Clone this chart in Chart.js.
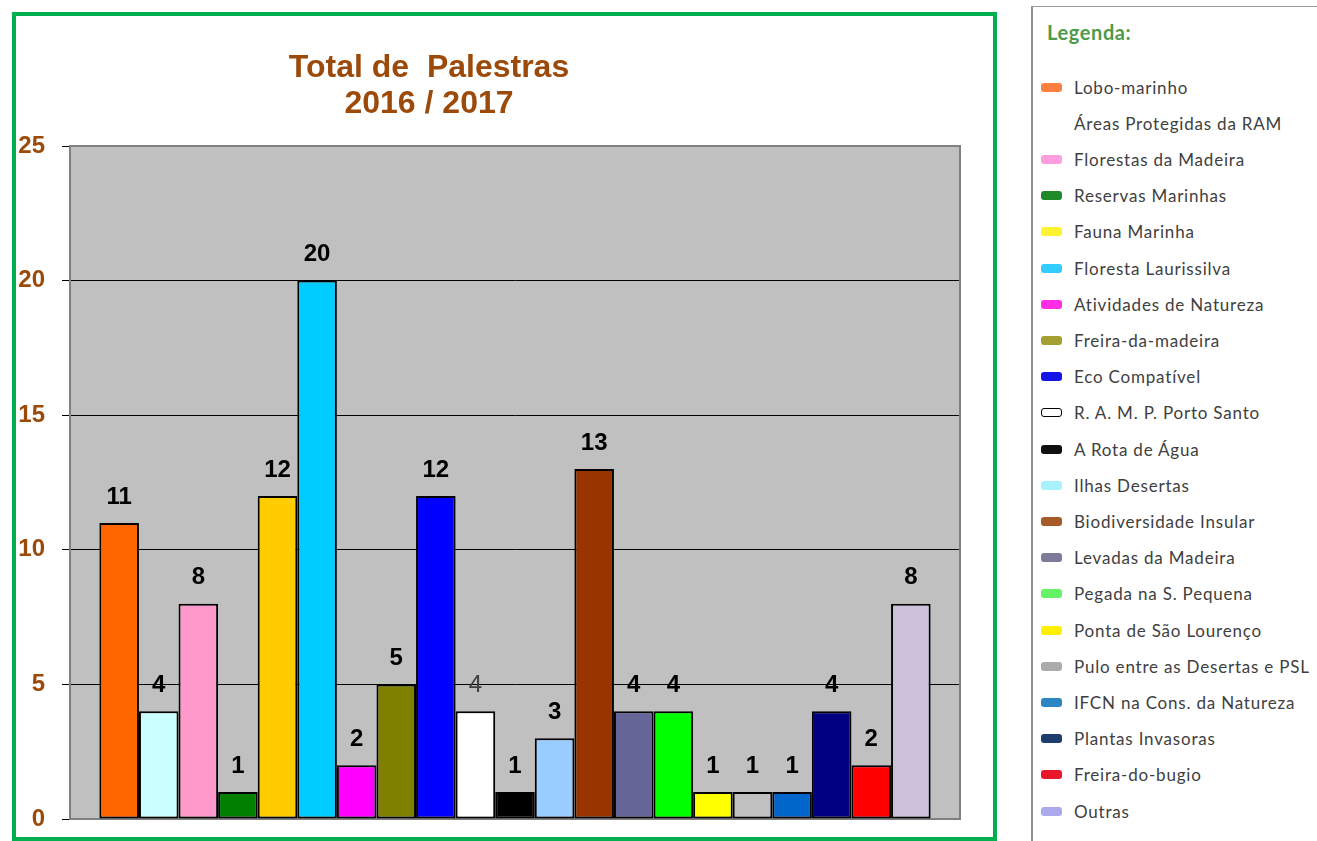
<!DOCTYPE html>
<html>
<head>
<meta charset="utf-8">
<script src="https://cdn.jsdelivr.net/npm/chart.js@4/dist/chart.umd.min.js"></script>
<style>
  body { margin: 0; background: #fff; width: 1317px; height: 841px; overflow: hidden; position: relative; }
  #caixa { position: absolute; left: 12px; top: 12px; width: 977px; height: 821px; border: 4px solid #00B050; }
  #titulo { position: absolute; left: 0; top: 32px; width: 826px; text-align: center; white-space: pre;
            font: bold 32px Arial, "Liberation Sans", sans-serif; line-height: 36px; color: #9C4A0A; }
  #legenda { position: absolute; left: 1031px; top: 6px; width: 300px; height: 900px; border: 1px solid #9a9a9a;
             border-left: 2px solid #8a968a; font-family: Lato, "Open Sans", sans-serif; }
  #legenda h3 { margin: 0; position: absolute; left: 14px; top: 13px; font: bold 20px Lato, sans-serif;
                letter-spacing: 0.6px; color: #4F9A48; }
  .item { position: absolute; left: 8px; height: 20px; display: flex; align-items: center; font-size: 17px;
          letter-spacing: 0.8px; color: #404040; white-space: nowrap; }
  .amostra { width: 21px; height: 9px; border-radius: 3px; margin-right: 12px; box-sizing: border-box; }
</style>
</head>
<body>
<div id="caixa">
  <canvas id="chartPalestras" width="977" height="821"></canvas>
  <div id="titulo">Total de  Palestras
2016 / 2017</div>
</div>
<div id="legenda"><h3>Legenda:</h3></div>

<script>
// dados do gráfico
const temas = ["Lobo-marinho", "Áreas Protegidas da RAM", "Florestas da Madeira", "Reservas Marinhas",
  "Fauna Marinha", "Floresta Laurissilva", "Atividades de Natureza", "Freira-da-madeira", "Eco Compatível",
  "R. A. M. P. Porto Santo", "A Rota de Água", "Ilhas Desertas", "Biodiversidade Insular", "Levadas da Madeira",
  "Pegada na S. Pequena", "Ponta de São Lourenço", "Pulo entre as Desertas e PSL", "IFCN na Cons. da Natureza",
  "Plantas Invasoras", "Freira-do-bugio", "Outras"]
const palestras = [11, 4, 8, 1, 12, 20, 2, 5, 12, 4, 1, 3, 13, 4, 4, 1, 1, 1, 4, 2, 8]
const coresBarras = ["#FF6600", "#CCFFFF", "#FF99CC", "#008000", "#FFCC00", "#00CCFF", "#FF00FF", "#808000",
  "#0000FF", "#FFFFFF", "#000000", "#99CCFF", "#993300", "#666699", "#00FF00", "#FFFF00", "#C0C0C0",
  "#0066CC", "#000080", "#FF0000", "#CCC0DA"]
const coresLegenda = ["#FF7F3F", null, "#FF9EDC", "#1E8A2A", "#FFF230", "#33CCFF", "#FF2EE6", "#A39F30",
  "#1414E6", "#FFFFFF", "#101010", "#A8F2FF", "#A85A2A", "#7E7A9A", "#66F266", "#FFF000", "#ABABAB",
  "#2C86C4", "#1F3C6E", "#E8162A", "#ABA8EE"]
const ticksY = [0, 5, 10, 15, 20, 25]

// legenda
const legenda = document.getElementById('legenda')
temas.forEach((tema, i) => {
  const item = document.createElement('div')
  item.className = 'item'
  item.style.top = (70 + i * 36.2) + 'px'
  const amostra = document.createElement('span')
  amostra.className = 'amostra'
  if (coresLegenda[i]) {
    amostra.style.background = coresLegenda[i]
    if (coresLegenda[i] == "#FFFFFF") amostra.style.border = '1.5px solid #000'
  }
  item.appendChild(amostra)
  item.appendChild(document.createTextNode(tema))
  legenda.appendChild(item)
})

// fundo cinza e moldura da área do gráfico
const fundoArea = {
  id: 'fundoArea',
  beforeDraw(chart) {
    const { ctx, chartArea: a } = chart
    ctx.save()
    ctx.fillStyle = '#C0C0C0'
    ctx.fillRect(a.left, a.top, a.right - a.left, a.bottom - a.top)
    ctx.restore()
  },
  beforeDatasetsDraw(chart) {
    const { ctx, chartArea: a } = chart
    ctx.save()
    ctx.strokeStyle = '#808080'
    ctx.lineWidth = 2
    ctx.strokeRect(a.left, a.top, a.right - a.left, a.bottom - a.top)
    ctx.restore()
  }
}

// valores em cima das barras
const rotulos = {
  id: 'rotulos',
  afterDatasetsDraw(chart) {
    const ctx = chart.ctx
    ctx.save()
    ctx.textAlign = 'center'
    ctx.textBaseline = 'middle'
    chart.data.datasets.forEach((ds, i) => {
      const barra = chart.getDatasetMeta(i).data[0]
      if (i == 9) {
        ctx.font = '24px Arial'
        ctx.fillStyle = '#404040'
      } else {
        ctx.font = 'bold 24px Arial'
        ctx.fillStyle = '#000'
      }
      ctx.fillText(ds.data[0], barra.x, barra.y - 26)
    })
    ctx.restore()
  }
}

const datasets = temas.map((tema, i) => ({
  label: tema,
  data: [palestras[i]],
  backgroundColor: coresBarras[i],
  borderColor: '#000',
  borderWidth: 2,
  borderSkipped: false,
  categoryPercentage: 0.934,
  barPercentage: 1
}))

const chartPalestras = document.getElementById('chartPalestras')

const config = {
  type: 'bar',
  data: { labels: ['Palestras 2016/2017'], datasets: datasets },
  options: {
    responsive: false,
    animation: false,
    layout: { padding: { top: 130, right: 33, bottom: 18, left: 0 } },
    plugins: {
      legend: { display: false },
      tooltip: { enabled: false }
    },
    scales: {
      x: { display: false },
      y: {
        min: 0,
        max: 25,
        afterFit(scale) {
          scale.width = 54
          scale.paddingTop = 0
          scale.paddingBottom = 0
        },
        afterBuildTicks(scale) { scale.ticks = ticksY.map(v => ({ value: v })) },
        border: { display: true, color: '#707070', width: 2 },
        grid: {
          color: (c) => (c.tick && (c.tick.value == 0 || c.tick.value == 25)) ? '#808080' : '#000',
          tickColor: '#000',
          tickLength: 8,
          lineWidth: 1
        },
        ticks: {
          padding: 17,
          color: '#9C4A0A',
          font: { family: 'Arial', weight: 'bold', size: 24 }
        }
      }
    }
  },
  plugins: [fundoArea, rotulos]
}

let grafico = new Chart(chartPalestras, config)
</script>
</body>
</html>
